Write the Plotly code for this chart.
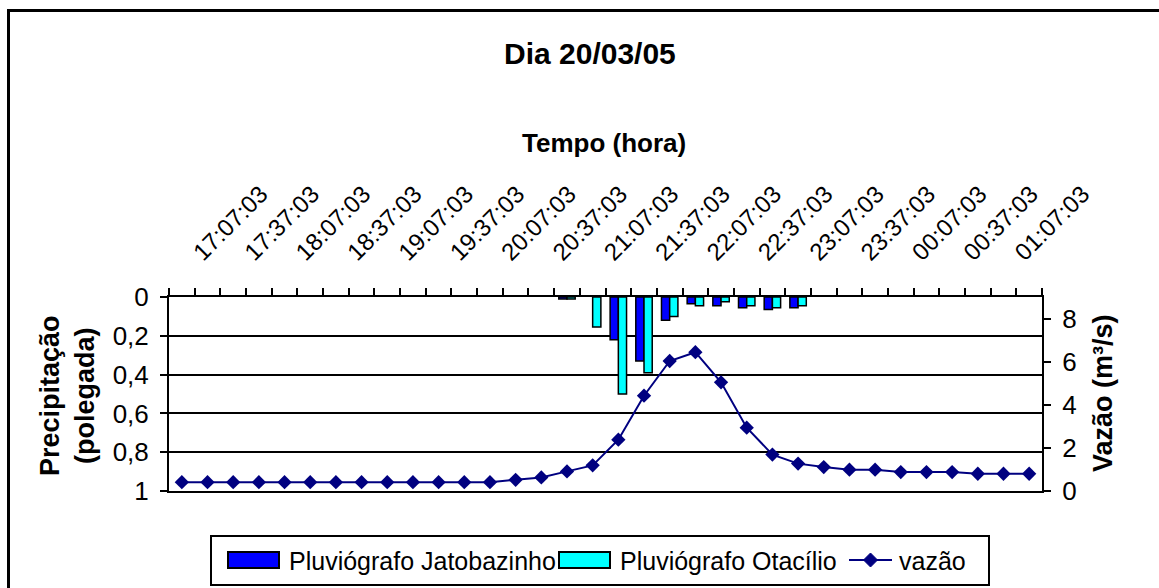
import plotly.graph_objects as go

# 15-minute time steps (hh:mm:ss)
times = [
    "17:07:03", "17:22:03", "17:37:03", "17:52:03", "18:07:03", "18:22:03",
    "18:37:03", "18:52:03", "19:07:03", "19:22:03", "19:37:03", "19:52:03",
    "20:07:03", "20:22:03", "20:37:03", "20:52:03", "21:07:03", "21:22:03",
    "21:37:03", "21:52:03", "22:07:03", "22:22:03", "22:37:03", "22:52:03",
    "23:07:03", "23:22:03", "23:37:03", "23:52:03", "00:07:03", "00:22:03",
    "00:37:03", "00:52:03", "01:07:03", "01:22:03",
]

# Rainfall (inches) per gauge
jatobazinho = [
    None, None, None, None, None, None, None, None, None, None, None, None,
    None, None, None, 0.01, None, 0.22, 0.33, 0.12, 0.035, 0.045, 0.055, 0.065,
    0.055, None, None, None, None, None, None, None, None, None,
]
otacilio = [
    None, None, None, None, None, None, None, None, None, None, None, None,
    None, None, None, 0.01, 0.155, 0.50, 0.39, 0.10, 0.045, 0.025, 0.045, 0.055,
    0.045, None, None, None, None, None, None, None, None, None,
]

# Discharge (m3/s)
vazao = [
    0.41, 0.41, 0.41, 0.41, 0.41, 0.41, 0.41, 0.41, 0.41, 0.41, 0.41, 0.41,
    0.41, 0.52, 0.63, 0.91, 1.19, 2.38, 4.42, 6.03, 6.44, 5.04, 2.94, 1.69,
    1.27, 1.11, 0.99, 0.99, 0.88, 0.88, 0.88, 0.80, 0.80, 0.80,
]

precip_ticks = [0, 0.2, 0.4, 0.6, 0.8, 1]
precip_ticktext = ["0", "0,2", "0,4", "0,6", "0,8", "1"]
vazao_ticks = [0, 2, 4, 6, 8]

legend_names = ["Pluviógrafo Jatobazinho", "Pluviógrafo Otacílio", "vazão"]

COL_JAT = "#0000FF"
COL_OTA = "#00FFFF"
COL_VAZ = "#000080"
FONT = "Arial, Liberation Sans, sans-serif"

# page geometry
WIDTH, HEIGHT = 1159, 588
ML, MR, MT, MB = 169, 117, 297, 97
PW = WIDTH - ML - MR
PH = HEIGHT - MT - MB


def px(x):
    return (x - ML) / PW


def py(y):
    return (HEIGHT - MB - y) / PH


xpos = list(range(len(times)))
# rotated labels sit slightly right of their category centre
label_pos = [i + 0.5 for i in xpos[::2]]

fig = go.Figure()
fig.add_trace(go.Bar(
    x=xpos, y=jatobazinho, name=legend_names[0], yaxis="y",
    marker=dict(color=COL_JAT, line=dict(color="black", width=1.5)),
))
fig.add_trace(go.Bar(
    x=xpos, y=otacilio, name=legend_names[1], yaxis="y",
    marker=dict(color=COL_OTA, line=dict(color="black", width=1.5)),
))
fig.add_trace(go.Scatter(
    x=xpos, y=vazao, name=legend_names[2], yaxis="y2", mode="lines+markers",
    line=dict(color=COL_VAZ, width=2),
    marker=dict(symbol="diamond", size=11, color=COL_VAZ),
))

fig.update_layout(
    width=WIDTH, height=HEIGHT,
    margin=dict(l=ML, r=MR, t=MT, b=MB),
    paper_bgcolor="white", plot_bgcolor="white",
    showlegend=False,
    barmode="group", bargap=0.36, bargroupgap=0,
    font=dict(family=FONT, color="black"),
    xaxis=dict(
        side="top", range=[-0.5, len(times) - 0.5],
        tickmode="array", tickvals=label_pos, ticktext=times[::2],
        tickangle=-45, tickfont=dict(size=24, family=FONT),
        ticks="", ticklabelstandoff=20,
        showgrid=False, zeroline=False,
        showline=True, linecolor="black", linewidth=2, mirror=True,
        minor=dict(
            tickmode="array",
            tickvals=[i - 0.5 for i in range(len(times) + 1)],
            ticks="outside", ticklen=7, tickwidth=1.5, tickcolor="black",
            showgrid=False,
        ),
    ),
    yaxis=dict(
        range=[1, 0], tickmode="array", tickvals=precip_ticks,
        ticktext=precip_ticktext, tickfont=dict(size=26, family=FONT),
        ticks="outside", ticklen=7, tickwidth=1.5, tickcolor="black",
        ticklabelstandoff=6,
        showgrid=True, gridcolor="black", gridwidth=1.5,
        zeroline=False, showline=True, linecolor="black", linewidth=2,
    ),
    yaxis2=dict(
        overlaying="y", side="right", range=[0, 9],
        tickmode="array", tickvals=vazao_ticks,
        tickfont=dict(size=26, family=FONT),
        ticks="outside", ticklen=7, tickwidth=1.5, tickcolor="black",
        ticklabelstandoff=6,
        showgrid=False, zeroline=False,
        showline=True, linecolor="black", linewidth=2,
    ),
)

annotations = [
    dict(text="<b>Dia 20/03/05</b>", x=px(590), y=py(53), font=dict(size=30)),
    dict(text="<b>Tempo (hora)</b>", x=px(604), y=py(143), font=dict(size=26)),
    dict(text="<b>Precipitação<br>(polegada)</b>", x=px(67), y=py(396),
         textangle=-90, font=dict(size=27)),
    dict(text="<b>Vazão (m³/s)</b>", x=px(1103), y=py(393),
         textangle=-90, font=dict(size=27)),
]
for a in annotations:
    a.update(xref="paper", yref="paper", showarrow=False,
             xanchor="center", yanchor="middle")
    fig.add_annotation(**a)

shapes = []
# chart frame
shapes.append(dict(type="rect", x0=px(8.5), x1=px(1180), y0=py(10.5), y1=py(620),
                   line=dict(color="black", width=3)))
# legend box
shapes.append(dict(type="rect", x0=px(211), x1=px(989), y0=py(536), y1=py(585),
                   line=dict(color="black", width=2), fillcolor="white"))
# legend swatches
for x0, x1, col in [(228, 279, COL_JAT), (559, 610, COL_OTA)]:
    shapes.append(dict(type="rect", x0=px(x0), x1=px(x1), y0=py(552), y1=py(568),
                       line=dict(color="black", width=2), fillcolor=col))
shapes.append(dict(type="line", x0=px(849), x1=px(892), y0=py(560), y1=py(560),
                   line=dict(color=COL_VAZ, width=2)))
cx, cy, r = 870.5, 560, 7
shapes.append(dict(
    type="path",
    path=(f"M {px(cx - r)} {py(cy)} L {px(cx)} {py(cy - r)} "
          f"L {px(cx + r)} {py(cy)} L {px(cx)} {py(cy + r)} Z"),
    fillcolor=COL_VAZ, line=dict(color=COL_VAZ, width=1),
))
for s in shapes:
    s.update(xref="paper", yref="paper")
    fig.add_shape(**s)

for name, x0 in zip(legend_names, [287, 618, 897]):
    fig.add_annotation(text=name, x=px(x0), y=py(561), xref="paper", yref="paper",
                       showarrow=False, xanchor="left", yanchor="middle",
                       font=dict(size=25, family=FONT))

fig.write_html("out.html")
